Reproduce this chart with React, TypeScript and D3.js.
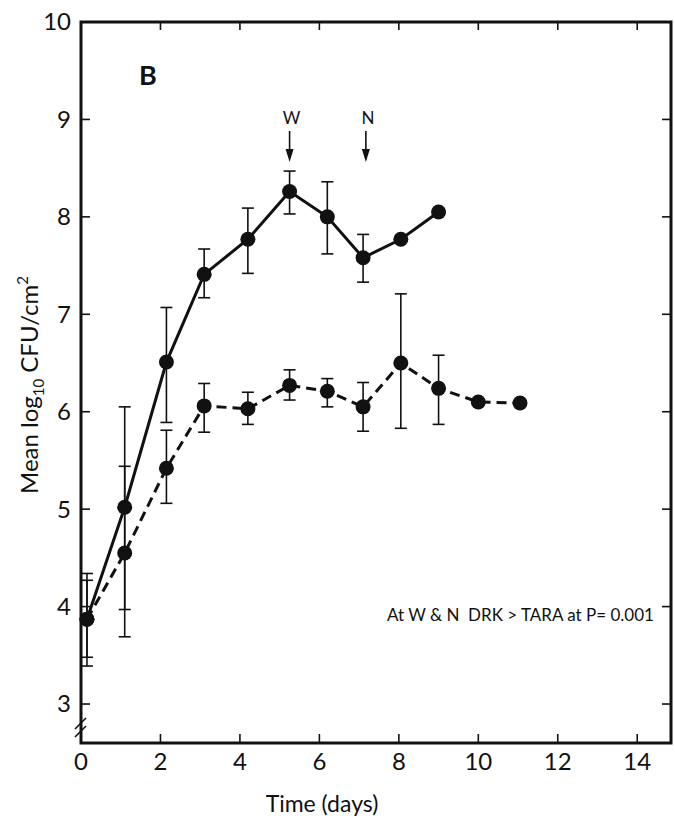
import React from 'react'
import * as d3 from 'd3'

// sampling days
const drkDays = [0.15, 1.1, 2.15, 3.1, 4.2, 5.25, 6.2, 7.1, 8.05, 9.0]
const taraDays = [0.15, 1.1, 2.15, 3.1, 4.2, 5.25, 6.2, 7.1, 8.05, 9.0, 10.0, 11.05]

// mean log10 CFU/cm2, with upper / lower error bar ends (null = no bar drawn)
const drkMean = [3.87, 5.02, 6.51, 7.41, 7.77, 8.26, 8.0, 7.58, 7.77, 8.05]
const drkHigh = [4.34, 6.05, 7.07, 7.67, 8.09, 8.47, 8.36, 7.82, null, null]
const drkLow = [3.39, 3.97, 5.89, 7.17, 7.42, 8.03, 7.62, 7.33, null, null]

const taraMean = [3.87, 4.55, 5.42, 6.06, 6.03, 6.27, 6.21, 6.05, 6.5, 6.24, 6.1, 6.09]
const taraHigh = [4.27, 5.44, 5.81, 6.29, 6.2, 6.43, 6.34, 6.3, 7.21, 6.58, null, null]
const taraLow = [3.48, 3.69, 5.06, 5.79, 5.87, 6.12, 6.05, 5.8, 5.83, 5.87, null, null]

const xTicks = [0, 2, 4, 6, 8, 10, 12, 14]
const yTicks = [3, 4, 5, 6, 7, 8, 9, 10]

const markers = [
  { label: 'W', day: 5.25 },
  { label: 'N', day: 7.17 }
]

const note = 'At W & N  DRK > TARA at P= 0.001'

const W = 675
const H = 819
const font = 'Lato, "DejaVu Sans", sans-serif'

const x = d3.scaleLinear().domain([0, 14.85]).range([81, 671])
const y = d3.scaleLinear().domain([2.6, 10]).range([743, 22])

const line = d3
  .line<[number, number]>()
  .x(d => x(d[0]))
  .y(d => y(d[1]))

function ErrorBars ({ xs, hi, lo }: { xs: number[], hi: (number | null)[], lo: (number | null)[] }) {
  return (
    <g stroke='#111' strokeWidth={1.6}>
      {xs.map((d, i) => {
        if (hi[i] == null || lo[i] == null) return null
        const cx = x(d)
        return (
          <g key={i}>
            <line x1={cx} x2={cx} y1={y(hi[i] as number)} y2={y(lo[i] as number)} />
            <line x1={cx - 6} x2={cx + 6} y1={y(hi[i] as number)} y2={y(hi[i] as number)} />
            <line x1={cx - 6} x2={cx + 6} y1={y(lo[i] as number)} y2={y(lo[i] as number)} />
          </g>
        )
      })}
    </g>
  )
}

export default function App () {
  const [x0, x1] = x.range()
  const [y0, y1] = y.range()
  const drk = drkDays.map((d, i) => [d, drkMean[i]] as [number, number])
  const tara = taraDays.map((d, i) => [d, taraMean[i]] as [number, number])

  return (
    <svg width={W} height={H} style={{ position: 'absolute', left: 0, top: 0, background: '#fff' }} fontFamily={font}>
      {/* frame */}
      <rect x={x0} y={y1} width={x1 - x0} height={y0 - y1} fill='none' stroke='#111' strokeWidth={3} />

      {/* inward ticks */}
      <g stroke='#111' strokeWidth={1.6}>
        {yTicks.slice(0, -1).map(t => (
          <g key={t}>
            <line x1={x0} x2={x0 + 9} y1={y(t)} y2={y(t)} />
            <line x1={x1} x2={x1 - 9} y1={y(t)} y2={y(t)} />
          </g>
        ))}
        {xTicks.slice(1).map(t => (
          <g key={t}>
            <line x1={x(t)} x2={x(t)} y1={y0} y2={y0 - 9} />
            <line x1={x(t)} x2={x(t)} y1={y1} y2={y1 + 8} />
          </g>
        ))}
      </g>

      {/* axis break */}
      <g stroke='#111' strokeWidth={1.6}>
        <line x1={x0 - 6} x2={x0 + 5} y1={729} y2={718} />
        <line x1={x0 - 6} x2={x0 + 5} y1={737} y2={726} />
      </g>

      {/* tick labels */}
      <g fontSize={24} fill='#111'>
        {yTicks.map(t => (
          <text key={t} x={71} y={y(t)} dy='0.35em' textAnchor='end'>{t}</text>
        ))}
        {xTicks.map(t => (
          <text key={t} x={x(t)} y={770} textAnchor='middle'>{t}</text>
        ))}
      </g>

      {/* axis titles */}
      <text x={322} y={812} fontSize={23} textAnchor='middle' fill='#111'>Time (days)</text>
      <text transform='translate(38,385) rotate(-90)' fontSize={24} textAnchor='middle' fill='#111'>
        Mean log<tspan fontSize={15} dy={6}>10</tspan><tspan dy={-6}> CFU/cm</tspan><tspan fontSize={15} dy={-10}>2</tspan>
      </text>

      <text x={148} y={85} fontSize={27} fontWeight='bold' textAnchor='middle' fill='#111'>B</text>

      {/* W / N arrows */}
      {markers.map(m => (
        <g key={m.label}>
          <text x={x(m.day) + 2} y={124} fontSize={17} textAnchor='middle' fill='#111'>{m.label}</text>
          <line x1={x(m.day)} x2={x(m.day)} y1={131} y2={152} stroke='#111' strokeWidth={1.6} />
          <path d={`M${x(m.day) - 4},149 L${x(m.day) + 4},149 L${x(m.day)},162 Z`} fill='#111' />
        </g>
      ))}

      {/* series */}
      <ErrorBars xs={drkDays} hi={drkHigh} lo={drkLow} />
      <ErrorBars xs={taraDays} hi={taraHigh} lo={taraLow} />
      <path d={line(tara) || ''} fill='none' stroke='#111' strokeWidth={3} strokeDasharray='10 6' />
      <path d={line(drk) || ''} fill='none' stroke='#111' strokeWidth={3} />
      <g fill='#111'>
        {tara.map((d, i) => <circle key={'t' + i} cx={x(d[0])} cy={y(d[1])} r={7.5} />)}
        {drk.map((d, i) => <circle key={'d' + i} cx={x(d[0])} cy={y(d[1])} r={7.5} />)}
      </g>

      <text x={387} y={621} fontSize={17} fill='#111' style={{ whiteSpace: 'pre' }}>{note}</text>
    </svg>
  )
}
